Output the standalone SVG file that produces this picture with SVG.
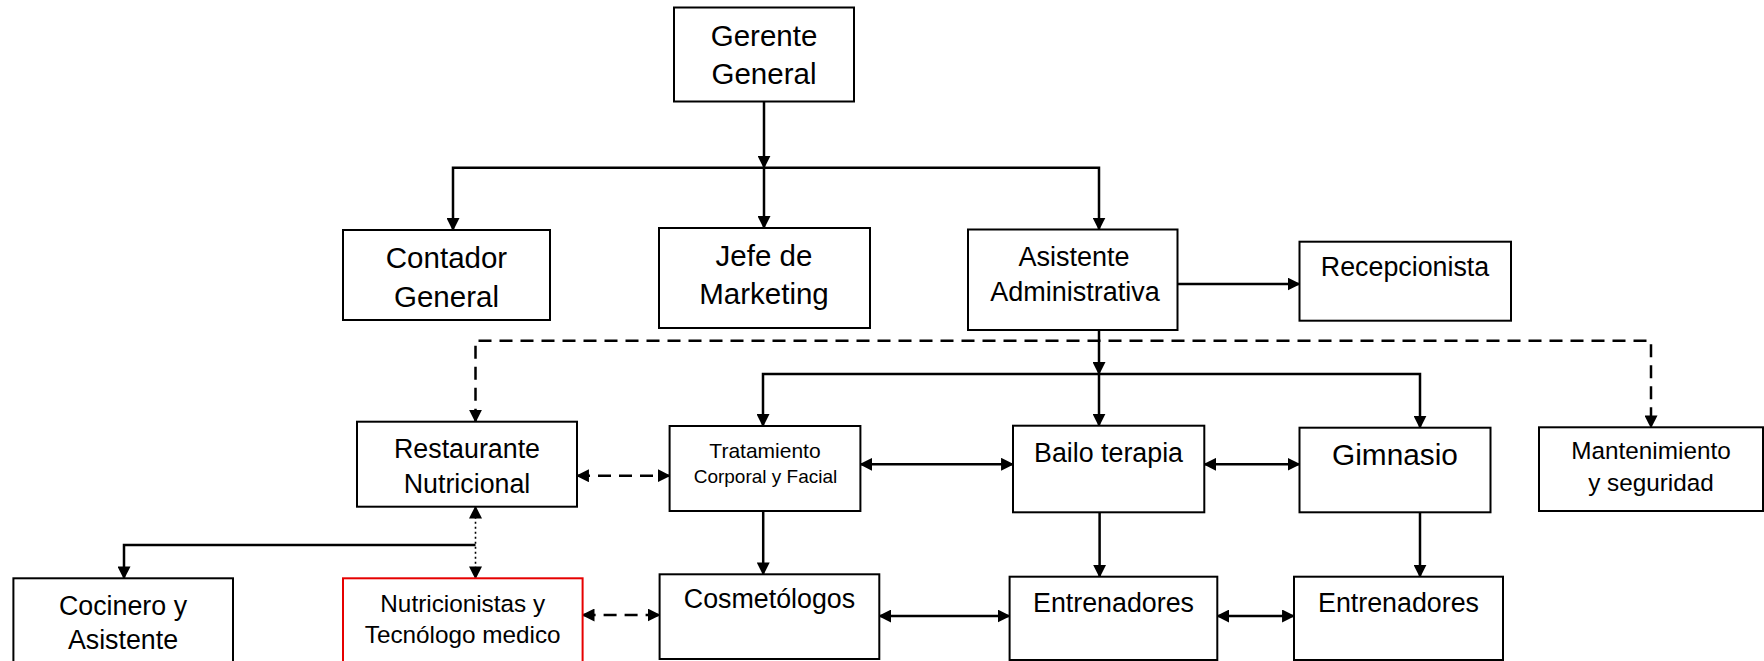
<svg xmlns="http://www.w3.org/2000/svg" width="1764" height="661" viewBox="0 0 1764 661">
<style>
.box{fill:#fff;stroke:#000;stroke-width:2}
.red{fill:#fff;stroke:#e60000;stroke-width:2}
text{font-family:"Liberation Sans",Arial,sans-serif;fill:#000;text-anchor:middle}
.c{fill:none;stroke:#000;stroke-width:2.5}
.d{stroke-dasharray:13 8}
.dot{stroke-width:1.6;stroke-dasharray:2 3}
</style>
<defs>
<marker id="a" viewBox="0 0 12 12" refX="11" refY="6" markerWidth="13" markerHeight="13" markerUnits="userSpaceOnUse" orient="auto-start-reverse">
<path d="M0,0 L12,6 L0,12 z" fill="#000"/>
</marker>
</defs>
<rect width="1764" height="661" fill="#fff"/>
<g id="connectors">
<path class="c" d="M764,101.5 V167.7" marker-end="url(#a)"/>
<path class="c" d="M764,167.7 H453 V230" marker-end="url(#a)"/>
<path class="c" d="M764,167.7 V228" marker-end="url(#a)"/>
<path class="c" d="M764,167.7 H1099 V229.5" marker-end="url(#a)"/>
<path class="c" d="M1177.5,284 H1299.5" marker-end="url(#a)"/>
<path class="c d" d="M475.5,421.7 V340.7 H1651 V427.3" marker-start="url(#a)" marker-end="url(#a)"/>
<path class="c" d="M1099,330 V374" marker-end="url(#a)"/>
<path class="c" d="M1099,374 H763 V426" marker-end="url(#a)"/>
<path class="c" d="M1099,374 V425.7" marker-end="url(#a)"/>
<path class="c" d="M1099,374 H1420 V427.7" marker-end="url(#a)"/>
<path class="c d" d="M577,475.7 H669.6" marker-start="url(#a)" marker-end="url(#a)"/>
<path class="c" d="M860.4,464.3 H1013" marker-start="url(#a)" marker-end="url(#a)"/>
<path class="c" d="M1204.3,464.3 H1299.5" marker-start="url(#a)" marker-end="url(#a)"/>
<path class="c" d="M763.2,511 V574.3" marker-end="url(#a)"/>
<path class="c" d="M1099.6,512.3 V576.7" marker-end="url(#a)"/>
<path class="c" d="M1420,512.3 V576.7" marker-end="url(#a)"/>
<path class="c" d="M879.3,616 H1009.6" marker-start="url(#a)" marker-end="url(#a)"/>
<path class="c" d="M1217.3,616 H1294" marker-start="url(#a)" marker-end="url(#a)"/>
<path class="c dot" d="M475.5,506.7 V578.3" marker-start="url(#a)" marker-end="url(#a)"/>
<path class="c" d="M475.5,545 H124 V578.3" marker-end="url(#a)"/>
<path class="c d" d="M582.6,615 H659.6" marker-start="url(#a)" marker-end="url(#a)"/>
</g>
<g id="gerente"><rect class="box" x="674" y="7.5" width="180" height="94"/><text x="764" y="45.7" font-size="29.5">Gerente</text><text x="764" y="84" font-size="29.5">General</text></g>
<g id="contador"><rect class="box" x="343" y="230" width="207" height="90"/><text x="446.5" y="268.3" font-size="29.5">Contador</text><text x="446.5" y="306.7" font-size="29.5">General</text></g>
<g id="jefe"><rect class="box" x="659" y="228" width="211" height="100"/><text x="764" y="266" font-size="29.5">Jefe de</text><text x="764" y="304" font-size="29.5">Marketing</text></g>
<g id="asistente"><rect class="box" x="968" y="229.5" width="209.5" height="100.5"/><text x="1074" y="265.5" font-size="27">Asistente</text><text x="1075" y="301" font-size="27">Administrativa</text></g>
<g id="recepcionista"><rect class="box" x="1299.5" y="241.7" width="211.5" height="79"/><text x="1405" y="275.7" font-size="26.8">Recepcionista</text></g>
<g id="restaurante"><rect class="box" x="357" y="421.7" width="220" height="85"/><text x="467" y="457.7" font-size="26.8">Restaurante</text><text x="467" y="492.7" font-size="26.8">Nutricional</text></g>
<g id="tratamiento"><rect class="box" x="669.6" y="426" width="190.8" height="85"/><text x="765" y="457.7" font-size="21">Tratamiento</text><text x="765.5" y="482.7" font-size="19">Corporal y Facial</text></g>
<g id="bailo"><rect class="box" x="1013" y="425.7" width="191.3" height="86.6"/><text x="1108.5" y="461.7" font-size="26.8">Bailo terapia</text></g>
<g id="gimnasio"><rect class="box" x="1299.5" y="427.7" width="191" height="84.6"/><text x="1395" y="465" font-size="29.8">Gimnasio</text></g>
<g id="mantenimiento"><rect class="box" x="1539" y="427.3" width="224" height="83.7"/><text x="1651" y="459.3" font-size="24.3">Mantenimiento</text><text x="1651" y="490.7" font-size="24.3">y seguridad</text></g>
<g id="cocinero"><rect class="box" x="13.4" y="578.3" width="219.6" height="100"/><text x="123" y="615" font-size="26.8">Cocinero y</text><text x="123" y="649.3" font-size="26.8">Asistente</text></g>
<g id="nutricionistas"><rect class="red" x="343" y="578.3" width="239.6" height="100"/><text x="462.7" y="611.7" font-size="24.3">Nutricionistas y</text><text x="462.7" y="643.3" font-size="24.3">Tecnólogo medico</text></g>
<g id="cosmetologos"><rect class="box" x="659.6" y="574.3" width="219.7" height="84.7"/><text x="769.5" y="608.3" font-size="26.8">Cosmetólogos</text></g>
<g id="entrenadores1"><rect class="box" x="1009.6" y="576.7" width="207.7" height="83.3"/><text x="1113.5" y="611.7" font-size="26.8">Entrenadores</text></g>
<g id="entrenadores2"><rect class="box" x="1294" y="576.7" width="209" height="83.3"/><text x="1398.5" y="611.7" font-size="26.8">Entrenadores</text></g>
</svg>
